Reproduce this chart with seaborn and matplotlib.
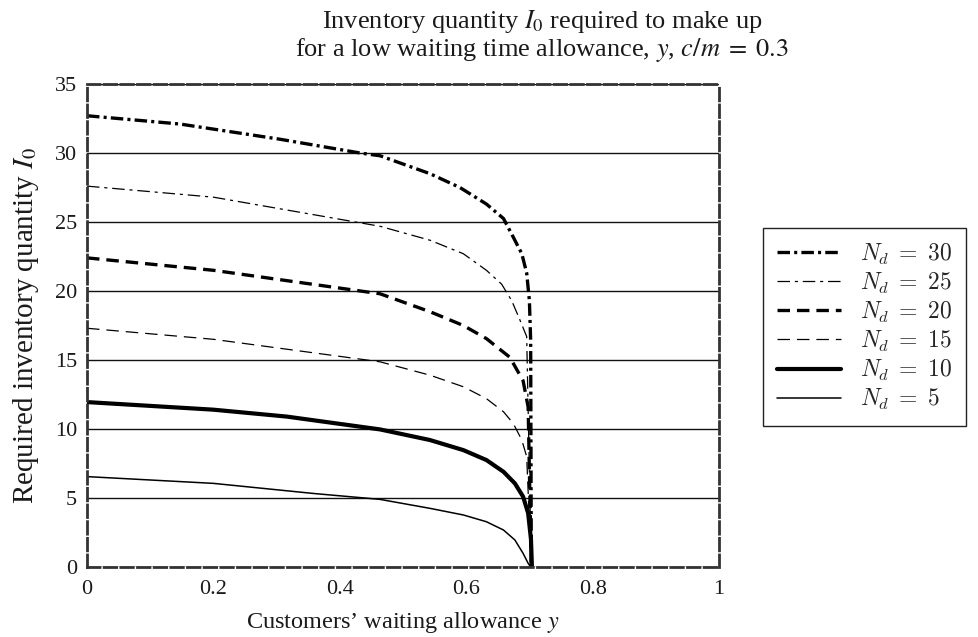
import numpy as np
import pandas as pd
import matplotlib
matplotlib.use("Agg")
import matplotlib.pyplot as plt
import seaborn as sns
from matplotlib.font_manager import FontProperties

# ---- data ----
levels = [30, 25, 20, 15, 10, 5]

x_30 = [0.0, 0.147, 0.305, 0.432, 0.4636, 0.5427, 0.590, 0.632, 0.659, 0.6745, 0.688, 0.6957, 0.700, 0.702, 0.703]
i_30 = [32.7, 32.1, 31.0, 30.0, 29.8, 28.5, 27.5, 26.3, 25.25, 23.9, 22.7, 21.3, 19.3, 16.4, 0.0]

x_25 = [0.0, 0.2, 0.4636, 0.5427, 0.5955, 0.632, 0.656, 0.672, 0.685, 0.6957, 0.703]
i_25 = [27.6, 26.8, 24.69, 23.68, 22.7, 21.5, 20.5, 19.3, 17.9, 16.7, 0.0]

x_20 = [0.0, 0.2, 0.4636, 0.5427, 0.5955, 0.632, 0.669, 0.690, 0.698, 0.703]
i_20 = [22.4, 21.5, 19.8, 18.5, 17.5, 16.55, 15.2, 13.5, 11.6, 0.0]

x_15 = [0.0, 0.2, 0.4636, 0.5427, 0.5955, 0.632, 0.659, 0.6745, 0.688, 0.6957, 0.703]
i_15 = [17.3, 16.5, 14.87, 13.9, 13.06, 12.2, 11.25, 10.4, 9.2, 8.0, 0.0]

x_10 = [0.0, 0.2, 0.316, 0.4636, 0.5427, 0.5955, 0.632, 0.659, 0.677, 0.690, 0.698, 0.7025, 0.704]
i_10 = [11.95, 11.4, 10.9, 9.97, 9.2, 8.47, 7.75, 6.9, 6.06, 5.1, 3.9, 2.0, 0.0]

x_5 = [0.0, 0.2, 0.358, 0.4636, 0.5427, 0.5955, 0.632, 0.659, 0.677, 0.690, 0.698, 0.702]
i_5 = [6.55, 6.06, 5.33, 4.9, 4.25, 3.77, 3.28, 2.68, 1.96, 0.99, 0.27, 0.0]

series = {30: (x_30, i_30), 25: (x_25, i_25), 20: (x_20, i_20),
          15: (x_15, i_15), 10: (x_10, i_10), 5: (x_5, i_5)}

x_ticks = [0, 0.2, 0.4, 0.6, 0.8, 1]
x_tick_labels = ["0", "0.2", "0.4", "0.6", "0.8", "1"]
y_ticks = [0, 5, 10, 15, 20, 25, 30, 35]

title_text = ("Inventory quantity $I_0$ required to make up\n"
              "for a low waiting time allowance, $y$, $c/m\\;=\\;0.3$")
xlabel_text = "Customers\u2019 waiting allowance $y$"
ylabel_text = "Required inventory quantity $I_0$"

rows = []
for n in levels:
    xs, ys = series[n]
    lab = "$N_d\\;=\\;%d$" % n
    for a, b in zip(xs, ys):
        rows.append({"y": a, "I": b, "N": lab})
df = pd.DataFrame(rows)
order = ["$N_d\\;=\\;%d$" % n for n in levels]

# ---- style ----
sns.set_style("white")
plt.rcParams["font.family"] = ["Liberation Serif", "DejaVu Serif"]
plt.rcParams["mathtext.fontset"] = "stix"
plt.rcParams["lines.scale_dashes"] = False

dashes = {
    order[0]: (9, 3, 2.2, 3),
    order[1]: (9, 3.5, 2.2, 3.5),
    order[2]: (9, 5),
    order[3]: (9, 5),
    order[4]: "",
    order[5]: "",
}
sizes = {order[0]: 2.4, order[1]: 0.9, order[2]: 2.4,
         order[3]: 0.9, order[4]: 3.0, order[5]: 1.1}

fig = plt.figure(figsize=(9.79, 6.37), dpi=100)
ax = fig.add_axes([87 / 979, 70 / 637, (719 - 87) / 979, (567 - 84) / 637])

sns.lineplot(data=df, x="y", y="I", style="N", size="N", style_order=order,
             size_order=order, dashes=dashes, sizes=sizes, color="black",
             estimator=None, sort=False, ax=ax, legend="full")

ax.set_xlim(0, 1)
ax.set_ylim(0, 35)
ax.set_xticks(x_ticks)
ax.set_xticklabels(x_tick_labels)
ax.set_yticks(y_ticks)
ax.yaxis.grid(True, color="#111111", linewidth=1.0, linestyle="-")
ax.xaxis.grid(False)
ax.set_axisbelow(True)
ax.tick_params(axis="x", direction="in", length=5, width=0.8, colors="#222222",
               labelsize=16, pad=9, labelcolor="#1a1a1a")
ax.tick_params(axis="y", direction="in", length=0, labelsize=16, pad=7,
               labelcolor="#1a1a1a")
for sp in ax.spines.values():
    sp.set_visible(True)
    sp.set_color("#333333")
    sp.set_linewidth(2.0)
    sp.set_linestyle((0, (9, 3)))

ax.set_xlabel(xlabel_text, fontsize=17.5, labelpad=8, color="#1a1a1a")
ax.set_ylabel(ylabel_text, fontsize=21, labelpad=10, color="#1a1a1a")

fig.text(542 / 979, 1 - 8 / 637, title_text, ha="center", va="top",
         fontsize=19, color="#1a1a1a", linespacing=1.05)

handles, labels = ax.get_legend_handles_labels()
if ax.get_legend() is not None:
    ax.get_legend().remove()
pairs = [(h, l) for h, l in zip(handles, labels) if l in order]
leg_prop = FontProperties(family="DejaVu Sans", size=17, math_fontfamily="cm")
leg = fig.legend([p[0] for p in pairs], [p[1] for p in pairs],
                 loc="lower left", bbox_to_anchor=(763 / 979, (637 - 426) / 637),
                 bbox_transform=fig.transFigure, prop=leg_prop,
                 frameon=True, fancybox=False, edgecolor="#222222",
                 framealpha=1, handlelength=2.7, handletextpad=0.8,
                 labelspacing=0.17, borderpad=0.6, borderaxespad=0)
leg.get_frame().set_linewidth(1.0)

fig.savefig("out.png", dpi=100)
